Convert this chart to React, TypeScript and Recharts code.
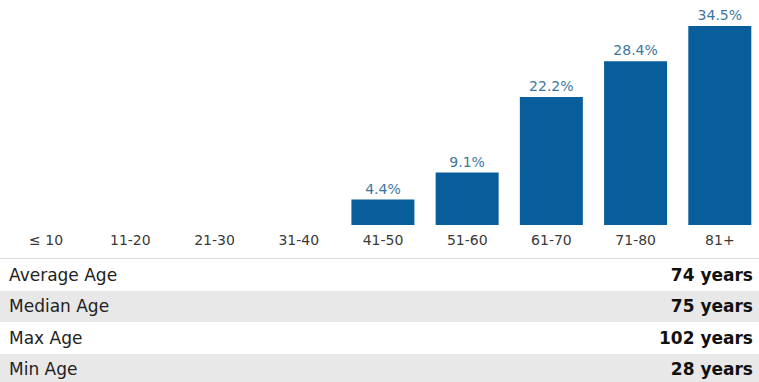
import { BarChart, Bar, XAxis, YAxis, LabelList } from 'recharts';

const ageGroups = ['≤ 10', '11-20', '21-30', '31-40', '41-50', '51-60', '61-70', '71-80', '81+'];
const sharePct = [0, 0, 0, 0, 4.4, 9.1, 22.2, 28.4, 34.5];

const statLabels = ['Average Age', 'Median Age', 'Max Age', 'Min Age'];
const statValues = ['74 years', '75 years', '102 years', '28 years'];

const data = ageGroups.map((group, i) => ({ group, share: sharePct[i] }));

const FONT = '"DejaVu Sans", Verdana, sans-serif';

const pctLabel = (v: any) => (v > 0 ? `${v}%` : '');

export default function App() {
  return (
    <div
      style={{
        position: 'absolute',
        top: 0,
        left: 0,
        width: 759,
        height: 382,
        overflow: 'hidden',
        background: '#fff',
        fontFamily: FONT,
      }}
    >
      <BarChart
        width={759}
        height={250}
        data={data}
        margin={{ top: 0, right: -3, left: 4, bottom: 0 }}
        barCategoryGap="12.5%"
      >
        <XAxis
          dataKey="group"
          axisLine={false}
          tickLine={false}
          height={25}
          interval={0}
          tickMargin={4}
          tick={{ fill: '#3a3a3a', fontSize: 14, fontFamily: FONT }}
        />
        <YAxis hide domain={[0, 39]} />
        <Bar dataKey="share" fill="#075e9b" isAnimationActive={false}>
          <LabelList
            dataKey="share"
            position="top"
            offset={6}
            formatter={pctLabel}
            style={{ fill: '#3d77a0', fontSize: 14, fontFamily: FONT }}
          />
        </Bar>
      </BarChart>
      <div style={{ position: 'absolute', top: 258, left: 0, width: 759, borderTop: '1px solid #dedede' }}>
        {statLabels.map((label, i) => (
          <div
            key={label}
            style={{
              height: 31.5,
              display: 'flex',
              alignItems: 'center',
              justifyContent: 'space-between',
              padding: '0 6px 0 9px',
              background: i % 2 === 1 ? '#e8e8e8' : '#fff',
              fontSize: 17,
              color: '#222',
            }}
          >
            <span>{label}</span>
            <span style={{ fontWeight: 'bold', color: '#111' }}>{statValues[i]}</span>
          </div>
        ))}
      </div>
    </div>
  );
}
